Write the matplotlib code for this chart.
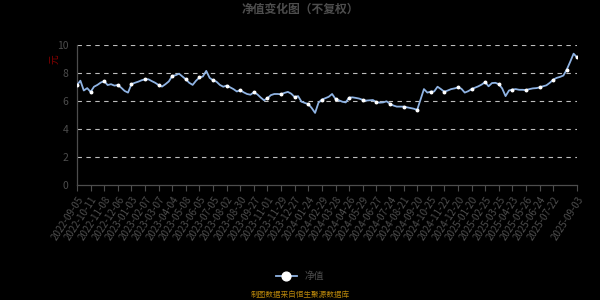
import matplotlib
matplotlib.use('Agg')
import matplotlib.pyplot as plt
import numpy as np

plt.rcParams['font.family'] = ['Noto Sans CJK SC', 'DejaVu Sans']

# tick labels (category axis, one label every ~20 trading days)
tick_dates = ['2022-09-05', '2022-10-11', '2022-11-08', '2022-12-06',
              '2023-01-03', '2023-02-07', '2023-03-07', '2023-04-04', '2023-05-08',
              '2023-06-05', '2023-07-05', '2023-08-02', '2023-08-30', '2023-09-27',
              '2023-11-01', '2023-11-29', '2023-12-27',
              '2024-01-24', '2024-02-29', '2024-03-28', '2024-04-26', '2024-05-29',
              '2024-06-27', '2024-07-24', '2024-08-21', '2024-09-20', '2024-10-25',
              '2024-11-22', '2024-12-20',
              '2025-01-20', '2025-02-25', '2025-03-25', '2025-04-23', '2025-05-26',
              '2025-06-24', '2025-07-22', '2025-09-03']
tick_idx = [4 * k for k in range(36)] + [147]

# net value, sampled along the series
nav = [7.14, 7.45, 6.75, 6.92, 6.65, 7.02, 7.15, 7.32, 7.42, 7.14,
       7.20, 7.10, 7.14, 6.95, 6.72, 6.60, 7.20, 7.30, 7.38, 7.48,
       7.55, 7.55, 7.42, 7.30, 7.14, 7.03, 7.20, 7.40, 7.79, 7.84,
       7.95, 7.75, 7.55, 7.30, 7.15, 7.45, 7.68, 7.75, 8.15, 7.65,
       7.48, 7.38, 7.15, 7.02, 7.10, 6.98, 6.85, 6.68, 6.78, 6.62,
       6.50, 6.45, 6.62, 6.48, 6.25, 6.05, 6.20, 6.42, 6.50, 6.50,
       6.48, 6.58, 6.65, 6.52, 6.28, 6.35, 5.95, 5.86, 5.78, 5.50,
       5.15, 5.88, 6.10, 6.20, 6.30, 6.50, 6.15, 6.05, 5.95, 5.90,
       6.24, 6.26, 6.22, 6.17, 6.08, 6.03, 6.05, 6.07, 5.92, 5.88,
       5.90, 5.98, 5.80, 5.68, 5.60, 5.60, 5.60, 5.55, 5.50, 5.45,
       5.36, 6.10, 6.85, 6.60, 6.67, 6.68, 7.02, 6.85, 6.66, 6.75,
       6.85, 6.90, 6.97, 6.88, 6.60, 6.70, 6.85, 6.95, 7.05, 7.18,
       7.35, 7.05, 7.28, 7.30, 7.20, 6.90, 6.35, 6.75, 6.82, 6.85,
       6.80, 6.80, 6.78, 6.85, 6.90, 6.92, 6.97, 7.05, 7.12, 7.30,
       7.52, 7.65, 7.72, 7.82, 8.25, 8.80, 9.38, 9.12]

x = np.arange(len(nav))
grey = '#4d4d4d'

fig = plt.figure(figsize=(6, 3), dpi=100, facecolor='black')
ax = fig.add_axes([77 / 600, 1 - 185 / 300, 500 / 600, 140 / 300], facecolor='black')

marks = list(range(0, len(nav), 4)) + [len(nav) - 1]
ax.plot(x, nav, color='#8fb3e3', lw=1.3, marker='o', markevery=marks,
        markersize=1.8, markerfacecolor='white', markeredgecolor='white',
        label='净值', zorder=3)

ax.set_xlim(0, len(nav) - 1)
ax.set_ylim(0, 10)
ax.set_yticks([0, 2, 4, 6, 8, 10])
for v in [2, 4, 6, 8, 10]:
    ax.axhline(v, color='#bdbdbd', lw=0.8, ls=(0, (4, 4)), zorder=1)

ax.set_xticks(tick_idx)
ax.set_xticklabels(tick_dates, rotation=57, ha='right', va='top',
                   rotation_mode='anchor', fontsize=7, color=grey)
ax.tick_params(axis='x', colors=grey, length=4, width=0.8, pad=3)
ax.tick_params(axis='y', colors=grey, length=0, labelsize=7.5, pad=6)
for lab in ax.get_yticklabels():
    lab.set_color(grey)

for s in ['top', 'right']:
    ax.spines[s].set_visible(False)
for s in ['left', 'bottom']:
    ax.spines[s].set_color(grey)
    ax.spines[s].set_linewidth(0.9)

ax.set_ylabel('元', color='#8b0000', fontsize=7, rotation=90)
ax.yaxis.set_label_coords(-0.035, 0.9)

fig.text(0.5, 0.968, '净值变化图（不复权）', ha='center', va='center',
         fontsize=8.5, fontweight='bold', color=grey)

leg = fig.legend(loc='center', bbox_to_anchor=(0.5, 0.08), frameon=False,
                 fontsize=7, handlelength=2.2, markerscale=3.5)
for t in leg.get_texts():
    t.set_color(grey)

fig.text(0.5, 0.018, '制图数据来自恒生聚源数据库', ha='center', va='center',
         fontsize=5.5, color='#b8860b')

fig.savefig('out.png', dpi=100, facecolor='black')
